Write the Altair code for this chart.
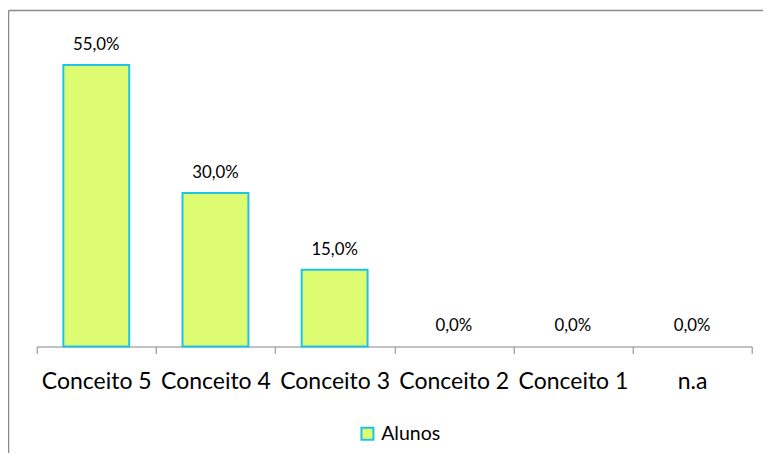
import altair as alt
import pandas as pd

categorias = ["Conceito 5", "Conceito 4", "Conceito 3", "Conceito 2", "Conceito 1", "n.a"]
valores = [55.0, 30.0, 15.0, 0.0, 0.0, 0.0]
serie = "Alunos"

df = pd.DataFrame({
    "categoria": categorias,
    "valor": valores,
    "serie": [serie] * len(categorias),
    "rotulo": [f"{v:.1f}%".replace(".", ",") for v in valores],
})

FILL = "#DEFC72"
STROKE = "#1EC3E6"
FONT = "Lato"

x = alt.X("categoria:N", sort=categorias, title=None,
          scale=alt.Scale(paddingInner=0, paddingOuter=0),
          axis=alt.Axis(labelAngle=0, labelFont=FONT, labelFontSize=23,
                        labelColor="#000000", labelBaseline="alphabetic",
                        labelPadding=35, tickBand="extent", tickSize=7,
                        tickColor="#868686", domainColor="#868686",
                        domainWidth=1, tickWidth=1, grid=False))
y = alt.Y("valor:Q", scale=alt.Scale(domain=[0, 60]), axis=None)

bars = alt.Chart(df).mark_bar(
    width=alt.RelativeBandSize(0.553), stroke=STROKE, strokeWidth=2
).encode(
    x=x, y=y,
    color=alt.Color("serie:N", scale=alt.Scale(range=[FILL]),
                    legend=alt.Legend(orient="none", legendX=321, legendY=384.5,
                                      title=None, symbolType="square", symbolSize=144,
                                      symbolStrokeColor=STROKE, symbolStrokeWidth=2,
                                      symbolFillColor=FILL, labelFont=FONT,
                                      labelFontSize=19.5, labelColor="#000000",
                                      labelOffset=4, padding=0)),
    strokeOpacity=alt.condition("datum.valor > 0", alt.value(1), alt.value(0)),
)

labels = alt.Chart(df).mark_text(
    font=FONT, fontSize=16.8, color="#000000", baseline="alphabetic", dy=-15
).encode(x=x, y=y, text="rotulo:N")

border_left = alt.Chart(alt.Data(values=[{}])).mark_rule(
    stroke="#898989", strokeWidth=1.5
).encode(x=alt.value(-28.2), y=alt.value(-29), y2=alt.value(600))
border_top = alt.Chart(alt.Data(values=[{}])).mark_rule(
    stroke="#898989", strokeWidth=1.5
).encode(x=alt.value(-28.2), x2=alt.value(900), y=alt.value(-29))

chart = alt.layer(border_left, border_top, bars, labels).properties(
    width=715, height=307,
    autosize=alt.AutoSizeParams(type="none"),
    padding={"left": 28.7, "top": 31.5, "right": 11, "bottom": 106},
    background="#ffffff",
).configure_view(stroke=None)

chart.save("out.html", embed_options={"renderer": "svg", "actions": False})
